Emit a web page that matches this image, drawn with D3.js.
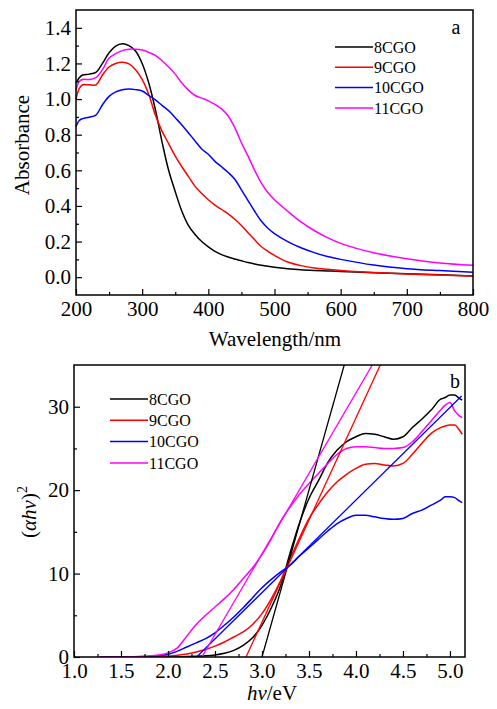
<!DOCTYPE html>
<html>
<head>
<meta charset="utf-8">
<script src="https://cdn.jsdelivr.net/npm/d3@7"></script>
<style>
  body { margin: 0; background: #fff; }
  svg { display: block; font-family: "Liberation Serif", "Times New Roman", serif; }
  .tick text { font-size: 21px; fill: #000; font-family: "Liberation Serif", "Times New Roman", serif; }
  .tick line { stroke: #000; stroke-width: 1.2; }
  .line { fill: none; stroke-width: 1.5; }
</style>
</head>
<body>
<div id="chart"></div>
<script>
// panel a: UV-vis absorbance
const wavelengths = [200, 205, 210, 220, 230, 240, 250, 260, 270, 280, 290, 300, 310, 320, 330, 340, 350, 360, 370, 380, 390, 400, 410, 420, 430, 440, 450, 460, 470, 480, 490, 500, 520, 540, 560, 580, 600, 650, 700, 750, 800]
const abs8 = [1.09, 1.12, 1.135, 1.14, 1.15, 1.20, 1.26, 1.297, 1.31, 1.30, 1.27, 1.20, 1.09, 0.94, 0.76, 0.60, 0.48, 0.37, 0.29, 0.24, 0.20, 0.17, 0.145, 0.127, 0.113, 0.102, 0.092, 0.082, 0.074, 0.067, 0.061, 0.056, 0.048, 0.042, 0.038, 0.035, 0.032, 0.025, 0.019, 0.013, 0.007]
const abs9 = [1.00, 1.06, 1.08, 1.08, 1.08, 1.135, 1.18, 1.20, 1.206, 1.198, 1.165, 1.11, 1.025, 0.91, 0.82, 0.75, 0.68, 0.62, 0.565, 0.51, 0.47, 0.435, 0.405, 0.38, 0.355, 0.325, 0.29, 0.25, 0.21, 0.172, 0.145, 0.122, 0.085, 0.065, 0.052, 0.044, 0.037, 0.026, 0.018, 0.012, 0.007]
const abs10 = [0.845, 0.88, 0.89, 0.898, 0.91, 0.968, 1.015, 1.04, 1.052, 1.056, 1.053, 1.045, 1.02, 0.995, 0.965, 0.935, 0.895, 0.855, 0.81, 0.765, 0.72, 0.69, 0.65, 0.62, 0.588, 0.55, 0.49, 0.43, 0.37, 0.315, 0.275, 0.245, 0.20, 0.165, 0.138, 0.116, 0.10, 0.068, 0.048, 0.037, 0.028]
const abs11 = [1.05, 1.10, 1.11, 1.11, 1.12, 1.165, 1.23, 1.255, 1.272, 1.28, 1.28, 1.275, 1.262, 1.245, 1.215, 1.18, 1.14, 1.09, 1.05, 1.02, 1.005, 0.99, 0.97, 0.945, 0.905, 0.84, 0.755, 0.68, 0.60, 0.53, 0.475, 0.435, 0.37, 0.31, 0.262, 0.222, 0.19, 0.137, 0.104, 0.08, 0.067]

// panel b: Tauc plot
const energies = [1.28, 1.5, 1.75, 1.9, 2.0, 2.1, 2.2, 2.3, 2.4, 2.5, 2.6, 2.7, 2.8, 2.9, 3.0, 3.1, 3.2, 3.3, 3.4, 3.5, 3.6, 3.7, 3.8, 3.9, 4.0, 4.1, 4.2, 4.3, 4.4, 4.5, 4.6, 4.7, 4.8, 4.9, 4.95, 5.0, 5.05, 5.1, 5.13]
const tauc8 = [0, 0, 0, 0, 0, 0, 0.05, 0.1, 0.15, 0.25, 0.45, 0.8, 1.4, 2.3, 3.8, 5.9, 8.6, 12.5, 16.1, 19.0, 21.1, 23.3, 24.8, 25.8, 26.4, 26.8, 26.7, 26.4, 26.1, 26.4, 27.5, 28.5, 29.6, 30.9, 31.1, 31.4, 31.4, 31.0, 30.8]
const tauc9 = [0, 0, 0, 0.05, 0.1, 0.2, 0.35, 0.6, 0.9, 1.3, 1.8, 2.4, 3.0, 3.9, 5.2, 7.0, 9.2, 11.8, 14.3, 16.6, 18.3, 19.8, 21.0, 21.9, 22.6, 23.1, 23.2, 23.0, 22.9, 23.2, 24.3, 25.6, 26.8, 27.5, 27.7, 27.8, 27.8, 27.2, 26.7]
const tauc10 = [0, 0, 0.05, 0.15, 0.3, 0.7, 1.2, 1.7, 2.2, 2.9, 3.8, 4.8, 5.9, 7.1, 8.3, 9.3, 10.2, 11.0, 12.1, 13.1, 14.1, 15.1, 16.0, 16.6, 17.0, 17.0, 16.8, 16.6, 16.5, 16.6, 17.2, 17.6, 18.2, 18.8, 19.2, 19.2, 19.1, 18.7, 18.5]
const tauc11 = [0, 0, 0.1, 0.25, 0.5, 1.1, 2.5, 3.9, 5.0, 6.0, 7.0, 8.1, 9.4, 10.7, 12.3, 14.2, 16.3, 18.0, 19.5, 20.8, 22.0, 23.2, 24.3, 25.0, 25.2, 25.2, 25.1, 25.0, 25.0, 25.1, 25.8, 27.0, 28.3, 29.6, 30.2, 30.5, 29.5, 28.9, 28.7]

// linear fits: x-intercept, slope, last x
const fitStart = [3.0, 2.83, 2.305, 2.36]
const fitSlope = [40, 24.5, 11.1, 19.3]
const fitEnd = [3.9, 4.3, 5.124, 4.2]

const names = ['8CGO', '9CGO', '10CGO', '11CGO']
const colors = ['#000000', '#ff0000', '#0000ff', '#ff00ff']

const svg = d3.select('#chart').append('svg')
  .attr('width', 497)
  .attr('height', 709)

const drawFrame = (g, x, y, xTicks, xMinor, yTicks, yMinor, xFmt, yFmt) => {
  const [x0, x1] = x.range()
  const [y0, y1] = y.range()
  const h = y0 - y1
  const w = x1 - x0

  const clean = a => {
    a.attr('font-family', null).attr('font-size', null)
    a.select('.domain').remove()
  }

  g.append('g')
    .attr('transform', `translate(0,${y0})`)
    .call(d3.axisBottom(x).tickValues(xMinor).tickSize(-3).tickFormat(''))
    .call(clean)
  g.append('g')
    .attr('transform', `translate(0,${y0})`)
    .call(d3.axisBottom(x).tickValues(xTicks).tickSize(-6).tickPadding(6).tickFormat(xFmt))
    .call(clean)
  g.append('g')
    .attr('transform', `translate(${x0},0)`)
    .call(d3.axisLeft(y).tickValues(yMinor).tickSize(-3).tickFormat(''))
    .call(clean)
  g.append('g')
    .attr('transform', `translate(${x0},0)`)
    .call(d3.axisLeft(y).tickValues(yTicks).tickSize(-6).tickPadding(5).tickFormat(yFmt))
    .call(clean)

  g.append('rect')
    .attr('x', x0).attr('y', y1)
    .attr('width', w).attr('height', h)
    .attr('fill', 'none')
    .attr('stroke', '#000')
    .attr('stroke-width', 1.5)
}

const drawLegend = (g, lx, ly, gap) => {
  names.forEach((n, i) => {
    g.append('line')
      .attr('x1', lx).attr('x2', lx + 38)
      .attr('y1', ly + i * gap).attr('y2', ly + i * gap)
      .attr('stroke', colors[i]).attr('stroke-width', 1.5)
    g.append('text')
      .attr('x', lx + 39).attr('y', ly + i * gap)
      .attr('dy', '0.35em')
      .attr('font-size', 16)
      .text(n)
  })
}

// ---------- panel a ----------
const ga = svg.append('g')
const xa = d3.scaleLinear().domain([200, 800]).range([76, 473])
const ya = d3.scaleLinear().domain([-0.1, 1.5]).range([295, 10])

const absSeries = [abs8, abs9, abs10, abs11]
const lineA = d3.line()
  .x((d, i) => xa(wavelengths[i]))
  .y(d => ya(d))
  .curve(d3.curveCatmullRom.alpha(0.5))

absSeries.forEach((s, i) => {
  ga.append('path')
    .datum(s)
    .attr('class', 'line')
    .attr('stroke', colors[i])
    .attr('d', lineA)
})

drawFrame(ga, xa, ya,
  d3.range(200, 801, 100), d3.range(250, 800, 100),
  d3.range(0, 1.41, 0.2), d3.range(-0.1, 1.5, 0.2).filter(v => v > -0.05),
  d3.format('d'), d3.format('.1f'))

drawLegend(ga, 335, 47, 20.3)

ga.append('text')
  .attr('x', 456).attr('y', 34)
  .attr('text-anchor', 'middle')
  .attr('font-size', 20)
  .text('a')

ga.append('text')
  .attr('transform', 'translate(29,145) rotate(-90)')
  .attr('text-anchor', 'middle')
  .attr('font-size', 21)
  .text('Absorbance')

ga.append('text')
  .attr('x', 275).attr('y', 346)
  .attr('text-anchor', 'middle')
  .attr('font-size', 21)
  .text('Wavelength/nm')

// ---------- panel b ----------
const gb = svg.append('g')
const xb = d3.scaleLinear().domain([1.0, 5.16]).range([74, 465])
const yb = d3.scaleLinear().domain([0, 35]).range([657, 365])

svg.append('clipPath').attr('id', 'clipb')
  .append('rect')
  .attr('x', 74).attr('y', 365)
  .attr('width', 391).attr('height', 292)

const taucSeries = [tauc8, tauc9, tauc10, tauc11]
const lineB = d3.line()
  .x((d, i) => xb(energies[i]))
  .y(d => yb(d))
  .curve(d3.curveMonotoneX)

const plotB = gb.append('g').attr('clip-path', 'url(#clipb)')

taucSeries.forEach((s, i) => {
  plotB.append('path')
    .datum(s)
    .attr('class', 'line')
    .attr('stroke', colors[i])
    .attr('d', lineB)
})

fitStart.forEach((x0, i) => {
  const x1 = fitEnd[i]
  plotB.append('line')
    .attr('x1', xb(x0)).attr('y1', yb(0))
    .attr('x2', xb(x1)).attr('y2', yb(fitSlope[i] * (x1 - x0)))
    .attr('stroke', colors[i])
    .attr('stroke-width', 1.3)
})

drawFrame(gb, xb, yb,
  d3.range(1.0, 5.01, 0.5), d3.range(1.25, 5.1, 0.5),
  d3.range(0, 31, 10), d3.range(5, 35, 10),
  d3.format('.1f'), d3.format('d'))

drawLegend(gb, 110, 399, 21.3)

gb.append('text')
  .attr('x', 455).attr('y', 388)
  .attr('text-anchor', 'middle')
  .attr('font-size', 20)
  .text('b')

const yTitle = gb.append('text')
  .attr('transform', 'translate(36,512) rotate(-90)')
  .attr('text-anchor', 'middle')
  .attr('font-size', 21)
yTitle.append('tspan').text('(')
yTitle.append('tspan').attr('font-style', 'italic').text('αhv')
yTitle.append('tspan').text(')')
yTitle.append('tspan').attr('font-size', 14).attr('dy', -9).text('2')

const xTitle = gb.append('text')
  .attr('x', 272).attr('y', 700)
  .attr('text-anchor', 'middle')
  .attr('font-size', 21)
xTitle.append('tspan').attr('font-style', 'italic').text('hv')
xTitle.append('tspan').text('/eV')
</script>
</body>
</html>
